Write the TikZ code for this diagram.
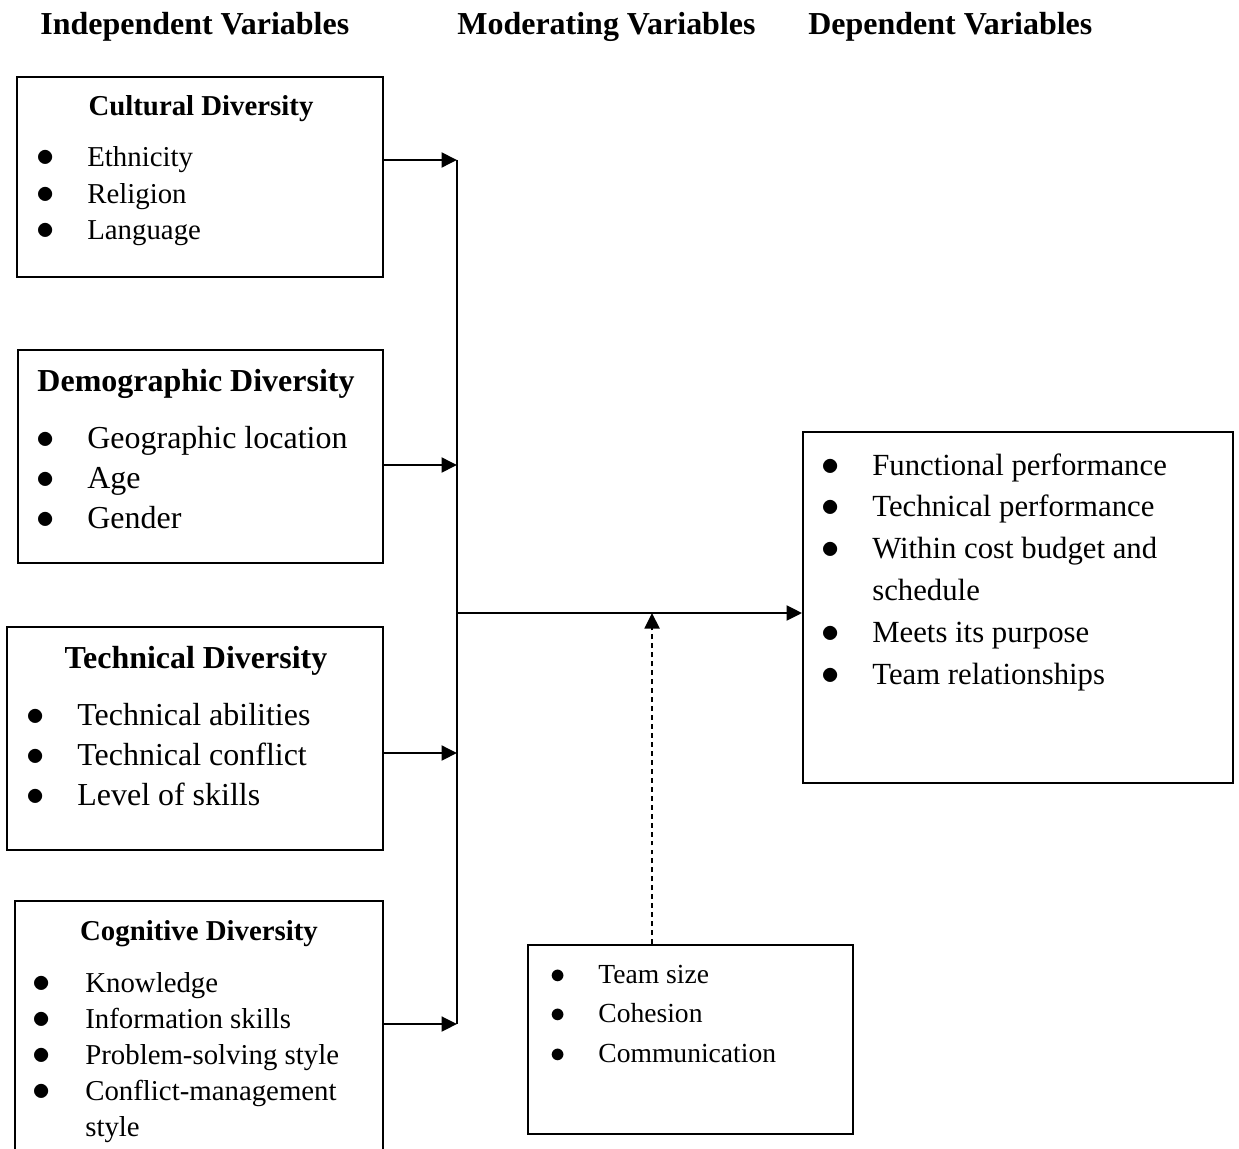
\documentclass[tikz,border=0pt]{standalone}
\usepackage{fontspec}
\setmainfont{Liberation Serif}
\usetikzlibrary{arrows.meta, fit}

\newcommand{\blist}[2]{\begin{tabular}[t]{@{}p{#1}@{}l@{}}#2\end{tabular}}
\newcommand{\bl}{\scalebox{1.2}{$\bullet$}}

\tikzset{
  box/.style={draw, line width=1.1pt, inner sep=0pt},
  hdr/.style={font=\bfseries\fontsize{18.2}{22}\selectfont, anchor=base west, inner sep=0pt},
  ttl/.style={font=\bfseries\fontsize{#1}{20}\selectfont, anchor=base, inner sep=0pt},
  lst/.style 2 args={font=\fontsize{#1}{#2}\selectfont, anchor=base west, inner sep=0pt},
  arr/.style={line width=1.1pt, -{Triangle[length=0.31cm,width=0.3cm]}},
}

\begin{document}
\begin{tikzpicture}[x=0.02cm, y=-0.02cm]
\useasboundingbox (0,0) rectangle (1239,1148);

% headings
\node[hdr] (hind) at (40,35) {Independent Variables};
\node[hdr] (hmod) at (457,35) {Moderating Variables};
\node[hdr] (hdep) at (808,35) {Dependent Variables};

% independent variables
\node[box, fit={(17,77) (383,277)}] (cult) {};
\node[ttl=16.4] (cultt) at (201,116) {Cultural Diversity};
\node[lst={16.4}{20.5}] (cultl) at (36,167)
  {\blist{1.02cm}{\bl & Ethnicity\\ \bl & Religion\\ \bl & Language}};

\node[box, fit={(18,350) (383,563)}] (demo) {};
\node[ttl=18.2] (demot) at (196,391) {Demographic Diversity};
\node[lst={18.2}{22.8}] (demol) at (36,448)
  {\blist{1.02cm}{\bl & Geographic location\\ \bl & Age\\ \bl & Gender}};

\node[box, fit={(7,627) (383,850)}] (tech) {};
\node[ttl=18.2] (techt) at (196,668) {Technical Diversity};
\node[lst={18.2}{22.8}] (techl) at (26,725)
  {\blist{1.02cm}{\bl & Technical abilities\\ \bl & Technical conflict\\ \bl & Level of skills}};

\node[box, fit={(15,901) (383,1152)}] (cogn) {};
\node[ttl=16.4] (cognt) at (199,940) {Cognitive Diversity};
\node[lst={16.4}{20.5}] (cognl) at (32,992)
  {\blist{1.06cm}{\bl & Knowledge\\ \bl & Information skills\\ \bl & Problem-solving style\\
   \bl & Conflict-management\\ & style}};

% moderating variables
\node[box, fit={(528,945) (853,1134)}] (mod) {};
\node[lst={15.7}{22.5}] (modl) at (550,983)
  {\blist{0.96cm}{\bl & Team size\\ \bl & Cohesion\\ \bl & Communication}};

% dependent variables
\node[box, fit={(803,432) (1233,783)}] (dep) {};
\node[lst={17.5}{23.9}] (depl) at (821,475)
  {\blist{1.02cm}{\bl & Functional performance\\ \bl & Technical performance\\
   \bl & Within cost budget and\\ & schedule\\ \bl & Meets its purpose\\ \bl & Team relationships}};

% connectors
\coordinate (j1) at (457,160);
\coordinate (j2) at (457,465);
\coordinate (j3) at (457,753);
\coordinate (j4) at (457,1024);
\coordinate (jm) at (457,613);
\coordinate (dm) at (652,613);
\draw[line width=1.1pt] (j1) -- (j4);
\draw[arr] (cult.east |- j1) -- (j1);
\draw[arr] (demo.east |- j2) -- (j2);
\draw[arr] (tech.east |- j3) -- (j3);
\draw[arr] (cogn.east |- j4) -- (j4);
\draw[arr] (jm) -- (jm -| dep.west);
\draw[arr, dash pattern=on 2.8pt off 2.3pt] (mod.north -| dm) -- (dm);
\end{tikzpicture}
\end{document}
